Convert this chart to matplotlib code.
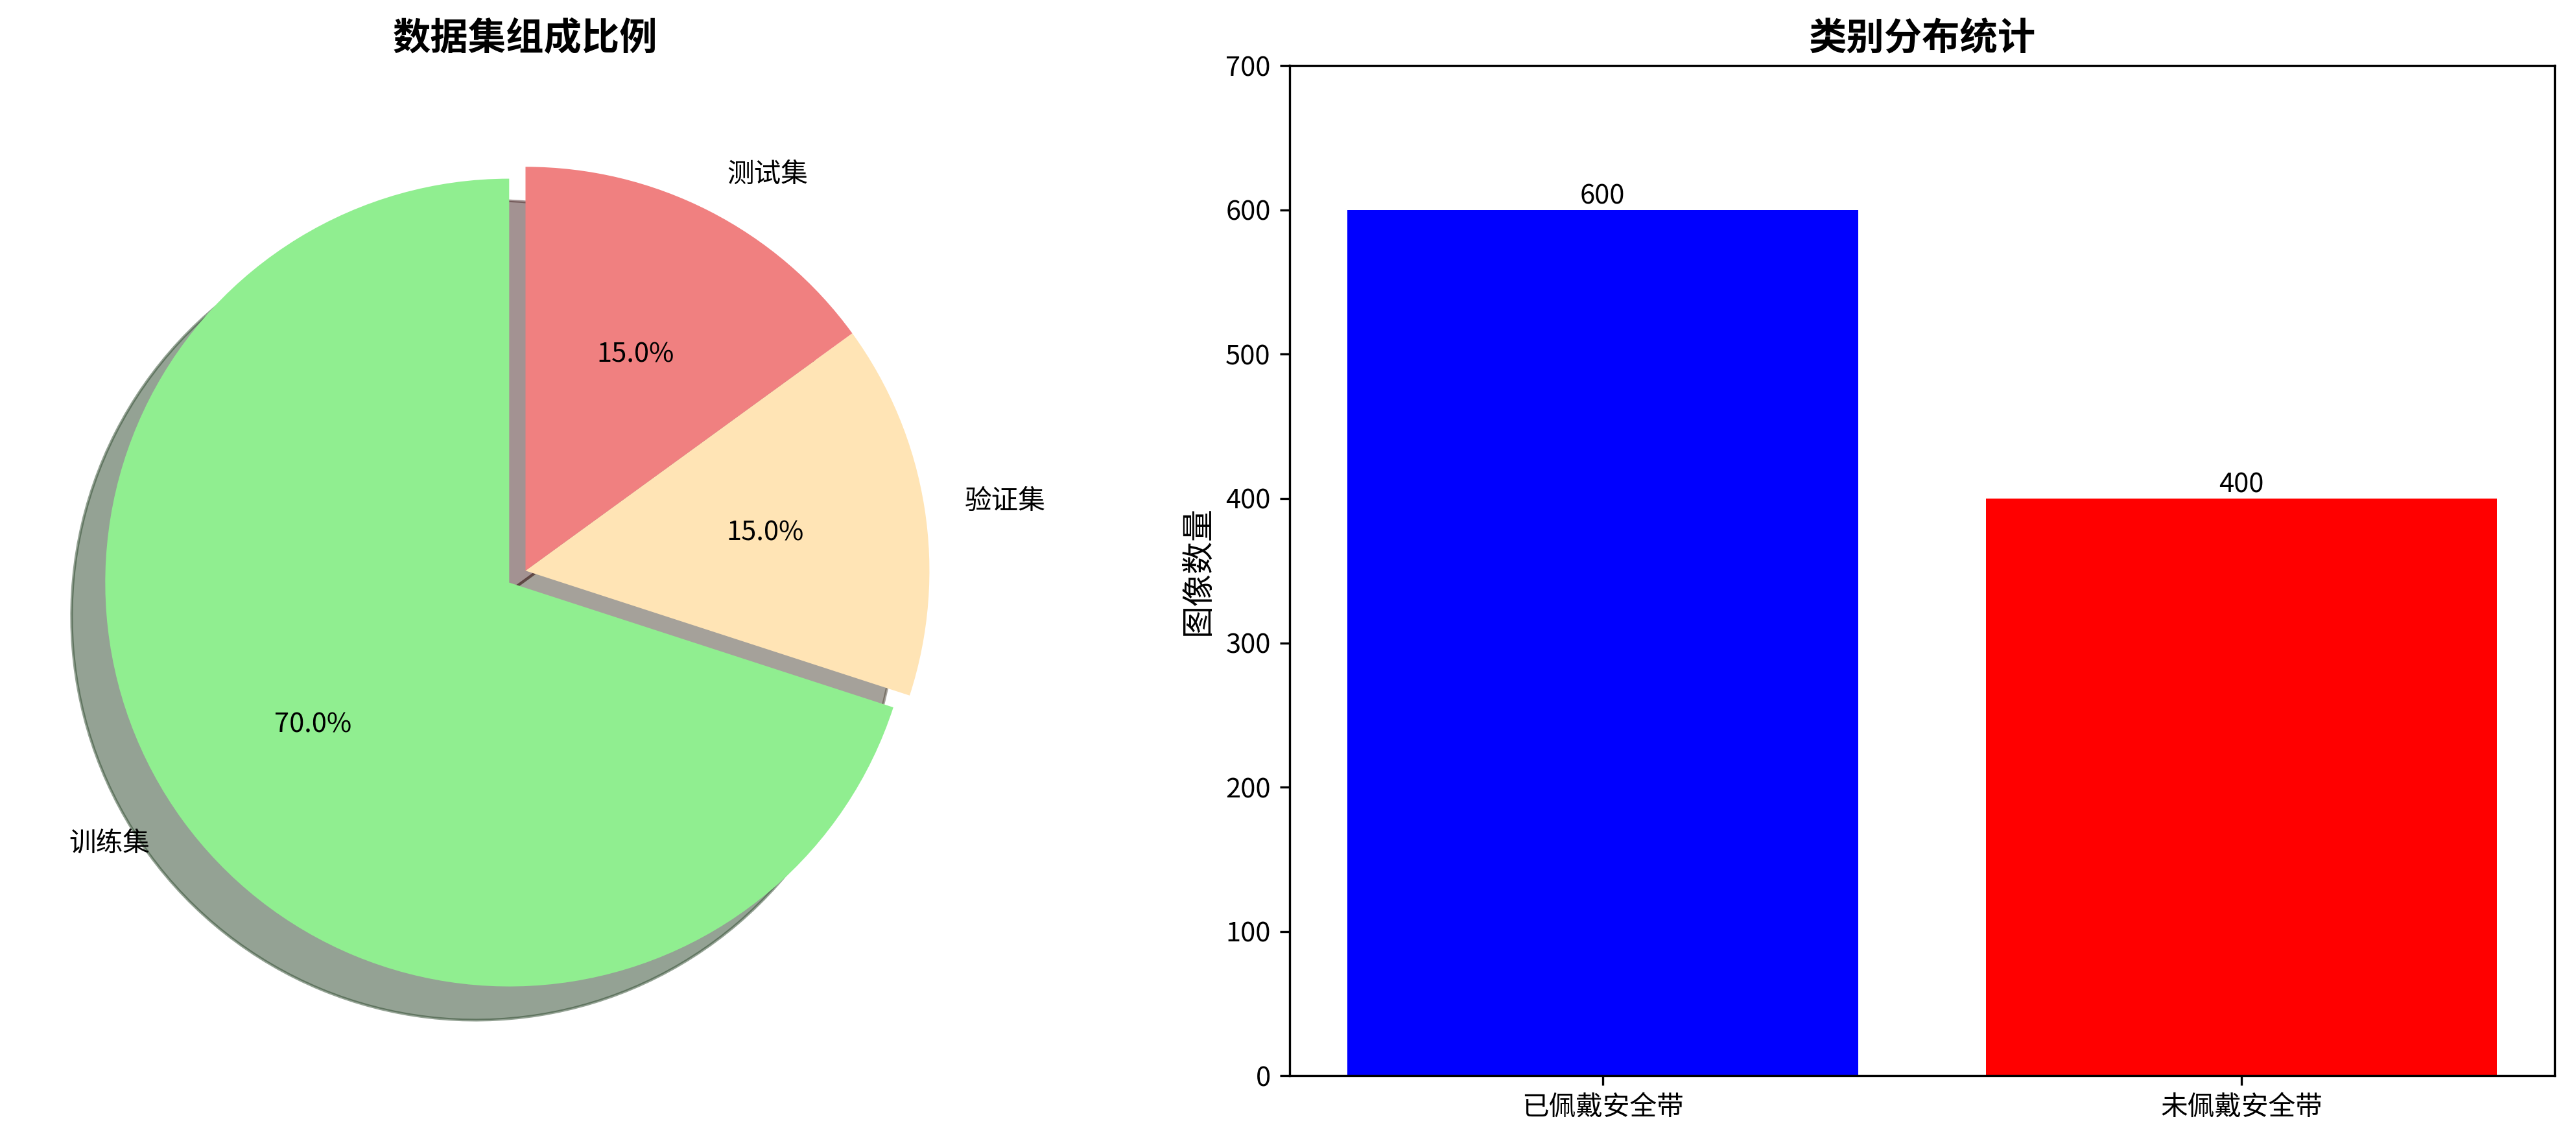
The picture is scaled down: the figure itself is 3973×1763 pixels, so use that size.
import numpy as np
import matplotlib.pyplot as plt

plt.rcParams['font.family'] = ['Noto Sans CJK SC', 'DejaVu Sans']
plt.rcParams['axes.unicode_minus'] = False

split_labels = ['训练集', '验证集', '测试集']
split_sizes = [70, 15, 15]
split_colors = ['lightgreen', 'moccasin', 'lightcoral']

class_names = ['已佩戴安全带', '未佩戴安全带']
class_counts = [600, 400]
class_colors = ['blue', 'red']

fig = plt.figure(figsize=(3973/300, 1763/300), dpi=300)

ax1 = fig.add_axes([0.008, 0.0589, 0.392, 0.8836])
ax1.pie(split_sizes, labels=split_labels, colors=split_colors, autopct='%1.1f%%',
        startangle=90, shadow=True, explode=(0.05, 0, 0))
ax1.set_title('数据集组成比例', fontsize=14, fontweight='bold')

ax2 = fig.add_axes([0.5006, 0.0589, 0.4911, 0.8836])
bars = ax2.bar(class_names, class_counts, color=class_colors)
for b, v in zip(bars, class_counts):
    ax2.text(b.get_x() + b.get_width()/2, b.get_height(), str(v),
             ha='center', va='bottom')
ax2.set_title('类别分布统计', fontsize=14, fontweight='bold')
ax2.set_ylabel('图像数量', fontsize=12)
ax2.set_ylim(0, 700)

plt.savefig('out.png', dpi=300)
